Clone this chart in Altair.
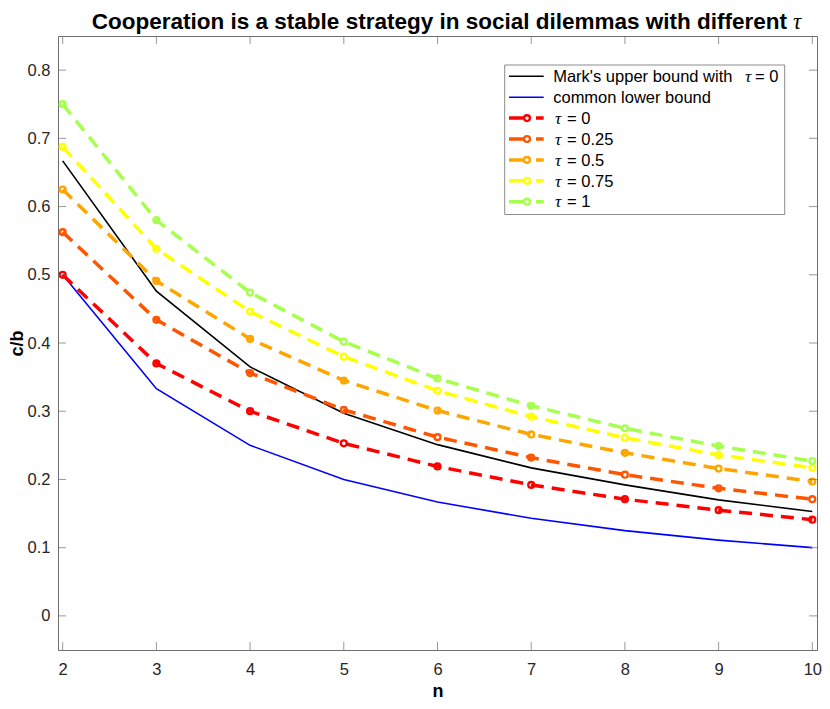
import altair as alt
import pandas as pd

# ---------------- data ----------------
n_vals = [2, 3, 4, 5, 6, 7, 8, 9, 10]
mark_upper = [0.667, 0.476, 0.365, 0.297, 0.251, 0.217, 0.192, 0.170, 0.153]
lower_bound = [0.500, 0.333, 0.250, 0.200, 0.167, 0.143, 0.125, 0.111, 0.100]
tau_0 = [0.500, 0.370, 0.300, 0.253, 0.219, 0.192, 0.171, 0.155, 0.141]
tau_025 = [0.5625, 0.434, 0.356, 0.302, 0.262, 0.232, 0.207, 0.187, 0.171]
tau_05 = [0.625, 0.491, 0.406, 0.345, 0.301, 0.266, 0.239, 0.216, 0.197]
tau_075 = [0.6875, 0.538, 0.446, 0.380, 0.330, 0.292, 0.261, 0.236, 0.217]
tau_1 = [0.750, 0.580, 0.474, 0.402, 0.348, 0.308, 0.275, 0.249, 0.227]

tau_names = ["0", "0.25", "0.5", "0.75", "1"]
tau_series = [tau_0, tau_025, tau_05, tau_075, tau_1]
tau_colors = ["#FF0000", "#FF5500", "#FFA500", "#FFFF00", "#A6FF4D"]
bound_names = ["Mark's upper bound with", "common lower bound"]
bound_series = [mark_upper, lower_bound]
bound_colors = ["#000000", "#0000FF"]

x_ticks = [2, 3, 4, 5, 6, 7, 8, 9, 10]
y_ticks = [0, 0.1, 0.2, 0.3, 0.4, 0.5, 0.6, 0.7, 0.8]
x_range = [1.95, 10.05]
y_range = [-0.05, 0.85]

title_text = "Cooperation is a stable strategy in social dilemmas with different"
TAU = "\u03c4"

# ---------------- style ----------------
W, H = 759, 614
SANS = "Liberation Sans"
SERIF = "Liberation Serif"
AX = "#262626"
BOX = "#6e6e6e"

xs = alt.Scale(domain=x_range, nice=False, zero=False)
ys = alt.Scale(domain=y_range, nice=False, zero=False)
x_axis = alt.Axis(values=x_ticks, format="d", grid=False, domain=False, ticks=False,
                  tickSize=0, labelFlush=False, labelPadding=11.5, labelFont=SANS,
                  labelFontSize=16.5, labelColor=AX, title="n", titleFont=SANS,
                  titleFontSize=18, titleFontWeight="bold", titleColor="#000000",
                  titleX=W / 2, titleY=46, titleBaseline="alphabetic", titleAlign="center")
y_axis = alt.Axis(values=y_ticks, format="~g", grid=False, domain=False, ticks=False,
                  tickSize=0, labelFlush=False, labelPadding=8, labelFont=SANS,
                  labelFontSize=16.5, labelColor=AX, title="c/b", titleFont=SANS,
                  titleFontSize=18, titleFontWeight="bold", titleColor="#000000",
                  titleX=-36, titleY=H / 2, titleAngle=270, titleBaseline="alphabetic",
                  titleAlign="center")
X = alt.X("n:Q", scale=xs, axis=x_axis)
Y = alt.Y("v:Q", scale=ys, axis=y_axis)
C = alt.Color("c:N", scale=None, legend=None)

# ---------------- data tables ----------------
rows = []
for name, vals, col in zip(bound_names, bound_series, bound_colors):
    for n, v in zip(n_vals, vals):
        rows.append({"n": n, "v": v, "s": name, "c": col})
bounds_df = pd.DataFrame(rows)

rows = []
for name, vals, col in zip(tau_names, tau_series, tau_colors):
    for n, v in zip(n_vals, vals):
        rows.append({"n": n, "v": v, "s": name, "c": col})
tau_df = pd.DataFrame(rows)

PT = dict(shape="circle", filled=False, size=34, strokeWidth=2.4, opacity=1)

bounds = alt.Chart(bounds_df).mark_line(strokeWidth=1.6).encode(
    x=X, y=Y, color=C, detail="s:N")
tau_lines = alt.Chart(tau_df).mark_line(strokeWidth=3.5, strokeDash=[13, 8], strokeCap="butt").encode(
    x=X, y=Y, color=C, detail="s:N")
tau_pts = alt.Chart(tau_df).mark_point(**PT).encode(x=X, y=Y, color=C)

# inward ticks on all four sides
bt = pd.DataFrame({"n": x_ticks, "v": [y_range[0]] * len(x_ticks)})
tt = pd.DataFrame({"n": x_ticks, "v": [y_range[1]] * len(x_ticks)})
lt = pd.DataFrame({"n": [x_range[0]] * len(y_ticks), "v": y_ticks})
rt = pd.DataFrame({"n": [x_range[1]] * len(y_ticks), "v": y_ticks})
tk = dict(size=8, thickness=1, color=BOX)
ticks_b = alt.Chart(bt).mark_tick(orient="vertical", yOffset=-4, **tk).encode(x=X, y=Y)
ticks_t = alt.Chart(tt).mark_tick(orient="vertical", yOffset=4, **tk).encode(x=X, y=Y)
ticks_l = alt.Chart(lt).mark_tick(orient="horizontal", xOffset=4, **tk).encode(x=X, y=Y)
ticks_r = alt.Chart(rt).mark_tick(orient="horizontal", xOffset=-4, **tk).encode(x=X, y=Y)

data_layer = alt.layer(bounds, tau_lines, tau_pts, ticks_b, ticks_t, ticks_l, ticks_r)

# ---------------- legend and title (pixel space) ----------------
L = W - 32.3 - 280
T = 29
row_gap = 20.9
leg_colors = bound_colors + tau_colors
row_y = [T + 11.3 + row_gap * i for i in range(len(leg_colors))]

PX = alt.X("x:Q", scale=None, axis=None)
PY = alt.Y("y:Q", scale=None, axis=None)

box_df = pd.DataFrame({"x": [L], "x2": [L + 280], "y": [T], "y2": [T + 149.5]})
box = alt.Chart(box_df).mark_rect(fill="white", stroke="#8c8c8c", strokeWidth=1).encode(
    x=PX, x2="x2:Q", y=PY, y2="y2:Q")

solid_df = pd.DataFrame({"x": [L + 4.3] * 2, "x2": [L + 39] * 2, "y": row_y[:2], "c": bound_colors})
leg_solid = alt.Chart(solid_df).mark_rule(strokeWidth=1.6).encode(x=PX, x2="x2:Q", y=PY, color=C)

dash_df = pd.DataFrame({"x": [L + 4.3] * 5, "x2": [L + 39] * 5, "y": row_y[2:], "c": tau_colors})
leg_dash = alt.Chart(dash_df).mark_rule(strokeWidth=3.5, strokeDash=[14, 13], strokeCap="butt").encode(
    x=PX, x2="x2:Q", y=PY, color=C)
dot_df = pd.DataFrame({"x": [L + 22.3] * 5, "y": row_y[2:], "c": tau_colors})
leg_dot = alt.Chart(dot_df).mark_point(**PT).encode(x=PX, y=PY, color=C)

sans_rows = [
    {"x": L + 48.5, "y": row_y[0] + 5.7, "t": bound_names[0]},
    {"x": L + 250.3, "y": row_y[0] + 5.7, "t": "= 0"},
    {"x": L + 48.5, "y": row_y[1] + 5.7, "t": bound_names[1]},
]
tau_rows = [{"x": L + 240.3, "y": row_y[0] + 5.7, "t": TAU}]
for i, name in enumerate(tau_names):
    sans_rows.append({"x": L + 62.3, "y": row_y[2 + i] + 5.7, "t": "= " + name})
    tau_rows.append({"x": L + 50.3, "y": row_y[2 + i] + 5.7, "t": TAU})
leg_sans = alt.Chart(pd.DataFrame(sans_rows)).mark_text(
    align="left", baseline="alphabetic", font=SANS, fontSize=16.5, color="#000000").encode(
    x=PX, y=PY, text="t:N")
leg_tau = alt.Chart(pd.DataFrame(tau_rows)).mark_text(
    align="left", baseline="alphabetic", font=SERIF, fontStyle="italic", fontSize=17.5,
    color="#000000").encode(x=PX, y=PY, text="t:N")

title_main = alt.Chart(pd.DataFrame({"x": [W / 2 + 349.5], "y": [-7], "t": [title_text]})).mark_text(
    align="right", baseline="alphabetic", font=SANS, fontSize=22.5, fontWeight="bold",
    color="#000000").encode(x=PX, y=PY, text="t:N")
title_tau = alt.Chart(pd.DataFrame({"x": [W / 2 + 355.5], "y": [-7], "t": [TAU]})).mark_text(
    align="left", baseline="alphabetic", font=SERIF, fontStyle="italic", fontSize=23,
    color="#000000").encode(x=PX, y=PY, text="t:N")

pixel_layer = alt.layer(box, leg_solid, leg_dash, leg_dot, leg_sans, leg_tau, title_main, title_tau)

chart = alt.layer(data_layer, pixel_layer).resolve_scale(x="independent", y="independent").properties(
    width=W, height=H,
    padding={"left": 50, "top": 28, "right": 5, "bottom": 51},
    autosize=alt.AutoSizeParams(type="none"),
    background="white",
).configure_view(stroke=BOX, strokeWidth=1)

chart.save("out.html", embed_options={"renderer": "svg", "actions": False})
